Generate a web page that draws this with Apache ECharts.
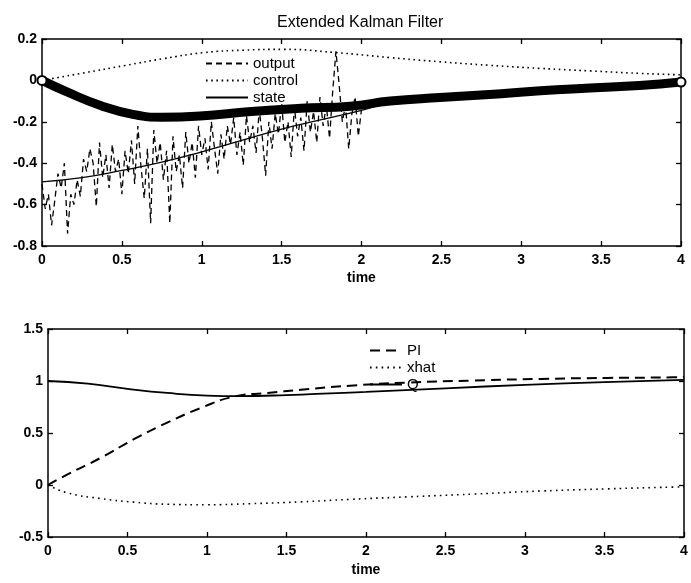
<!DOCTYPE html>
<html><head><meta charset="utf-8">
<script src="https://cdn.jsdelivr.net/npm/echarts@6/dist/echarts.min.js"></script>
<style>html,body{margin:0;padding:0;background:#fff}#c{width:691px;height:583px}</style>
</head><body><div id="c"></div>
<script>
// ---------- data ----------
const chartTitle = 'Extended Kalman Filter';
const xAxisName = 'time';
const topLegend = ['output', 'control', 'state'];
const bottomLegend = ['PI', 'xhat', 'Q'];

// top panel: noisy measurement (output), sampled every 0.02 from t = 0 to 2
const outputStep = 0.02;
const outputValues = [
-0.50,-0.62,-0.55,-0.70,-0.58,-0.45,-0.52,-0.40,-0.74,-0.55,
-0.60,-0.48,-0.56,-0.38,-0.44,-0.33,-0.40,-0.61,-0.30,-0.47,
-0.36,-0.52,-0.31,-0.44,-0.38,-0.55,-0.34,-0.45,-0.29,-0.50,
-0.22,-0.42,-0.57,-0.33,-0.69,-0.24,-0.40,-0.30,-0.48,-0.34,
-0.69,-0.27,-0.44,-0.36,-0.52,-0.25,-0.40,-0.30,-0.47,-0.22,
-0.36,-0.28,-0.43,-0.20,-0.33,-0.45,-0.26,-0.38,-0.22,-0.31,
-0.18,-0.36,-0.25,-0.41,-0.17,-0.30,-0.22,-0.35,-0.14,-0.28,
-0.46,-0.20,-0.33,-0.16,-0.26,-0.11,-0.30,-0.20,-0.37,-0.13,
-0.27,-0.18,-0.34,-0.10,-0.25,-0.15,-0.30,-0.08,-0.22,-0.12,
-0.28,-0.05,0.14,-0.02,-0.20,-0.12,-0.33,-0.16,-0.08,-0.27,
-0.14];

// top panel: control (dotted)
const controlT = [0, 0.26, 0.52, 0.76, 1.01, 1.26, 1.51, 1.83, 2.18, 2.49, 2.8, 3.12, 3.43, 3.74, 4.0];
const controlV = [0, 0.036, 0.072, 0.105, 0.134, 0.146, 0.15, 0.135, 0.11, 0.09, 0.073, 0.058, 0.046, 0.034, 0.027];

// top panel: state (thin solid)
const stateT = [0, 0.25, 0.5, 0.75, 1.0, 1.25, 1.5, 1.75, 2.0, 2.2, 2.5, 3.0, 3.5, 4.0];
const stateV = [-0.49, -0.47, -0.435, -0.395, -0.345, -0.29, -0.235, -0.19, -0.145, -0.105, -0.083, -0.055, -0.035, -0.012];

// top panel: estimate (heavy 'o' trace)
const estimateT = [0, 0.16, 0.37, 0.575, 0.75, 0.99, 1.31, 1.62, 1.93, 2.18, 2.49, 2.8, 3.12, 3.43, 3.74, 4.0];
const estimateV = [0, -0.057, -0.122, -0.165, -0.178, -0.172, -0.15, -0.135, -0.125, -0.1, -0.083, -0.068, -0.05, -0.037, -0.025, -0.008];

// bottom panel
const piT = [0, 0.12, 0.33, 0.54, 0.75, 0.96, 1.17, 1.38, 1.59, 1.9, 2.26, 2.68, 3.1, 3.52, 3.93, 4.0];
const piV = [0, 0.1, 0.26, 0.44, 0.6, 0.74, 0.85, 0.885, 0.915, 0.955, 0.985, 1.005, 1.02, 1.03, 1.035, 1.04];
const xhatT = [0, 0.12, 0.33, 0.54, 0.75, 1.0, 1.27, 1.59, 1.9, 2.26, 2.68, 3.1, 3.52, 3.93, 4.0];
const xhatV = [0, -0.075, -0.13, -0.165, -0.185, -0.19, -0.18, -0.162, -0.138, -0.114, -0.087, -0.058, -0.037, -0.02, -0.018];
const qT = [0, 0.25, 0.5, 0.75, 1.0, 1.2, 1.5, 2.0, 2.5, 3.0, 3.5, 4.0];
const qV = [1.0, 0.975, 0.925, 0.885, 0.86, 0.855, 0.865, 0.895, 0.93, 0.963, 0.99, 1.01];

// axis ranges / ticks
const xMin = 0, xMax = 4, xStep = 0.5;
const topYMin = -0.8, topYMax = 0.2, topYStep = 0.2;
const botYMin = -0.5, botYMax = 1.5, botYStep = 0.5;

// ---------- build ----------
const zip = (t, v) => t.map((x, i) => [x, v[i]]);
const outputData = outputValues.map((v, i) => [i * outputStep, v]);
const estimateData = zip(estimateT, estimateV).map((p, i, a) =>
  (i === 0 || i === a.length - 1)
    ? { value: p, symbol: 'emptyCircle', symbolSize: 9, itemStyle: { color: '#000', borderColor: '#000', borderWidth: 2.5 } }
    : { value: p });

const FONT = 'Liberation Sans, Arial, Helvetica, sans-serif';
const fmt = v => String(Math.round(v * 100) / 100);
const black = '#000';
const clear = 'rgba(0,0,0,0)';

function xAx(grid, pos, withLabels, nameGap) {
  return {
    type: 'value', gridIndex: grid, position: pos, min: xMin, max: xMax, interval: xStep,
    axisLine: { show: true, onZero: false, lineStyle: { color: black, width: 1.5 } },
    axisTick: { show: true, inside: true, length: 5, lineStyle: { color: black, width: 1.3 } },
    axisLabel: { show: withLabels, formatter: fmt, color: black, fontFamily: FONT, fontSize: 14, fontWeight: 'bold', margin: 7 },
    splitLine: { show: false },
    name: withLabels ? xAxisName : '', nameLocation: 'middle', nameGap: nameGap,
    nameTextStyle: { color: black, fontFamily: FONT, fontSize: 14, fontWeight: 'bold' }
  };
}
function yAx(grid, pos, min, max, step, withLabels) {
  return {
    type: 'value', gridIndex: grid, position: pos, min: min, max: max, interval: step,
    axisLine: { show: true, onZero: false, lineStyle: { color: black, width: 1.5 } },
    axisTick: { show: true, inside: true, length: 5, lineStyle: { color: black, width: 1.3 } },
    axisLabel: { show: withLabels, formatter: fmt, color: black, fontFamily: FONT, fontSize: 14, fontWeight: 'bold', margin: 5 },
    splitLine: { show: false }
  };
}
function legendOf(names, left, top, w) {
  return {
    data: names, orient: 'vertical', left: left, top: top, itemWidth: w, itemHeight: 10, itemGap: 2,
    textStyle: { color: black, fontFamily: FONT, fontSize: 15, lineHeight: 14 },
    itemStyle: { color: clear, borderColor: clear, borderWidth: 0, opacity: 0 },
    selectedMode: false
  };
}

const chart = echarts.init(document.getElementById('c'), null, { renderer: 'canvas' });
chart.setOption({
  backgroundColor: '#fff',
  animation: false,
  title: {
    text: chartTitle, left: 272, top: 10,
    textStyle: { color: black, fontFamily: FONT, fontSize: 16, fontWeight: 'normal' }
  },
  grid: [
    { left: 42, right: 10, top: 39, height: 207 },
    { left: 48, right: 7, top: 329, height: 208 }
  ],
  legend: [
    legendOf(topLegend, 200, 51, 42),
    legendOf(bottomLegend, 364, 338, 32)
  ],
  xAxis: [
    xAx(0, 'bottom', true, 25), xAx(0, 'top', false, 0),
    xAx(1, 'bottom', true, 26), xAx(1, 'top', false, 0)
  ],
  yAxis: [
    yAx(0, 'left', topYMin, topYMax, topYStep, true), yAx(0, 'right', topYMin, topYMax, topYStep, false),
    yAx(1, 'left', botYMin, botYMax, botYStep, true), yAx(1, 'right', botYMin, botYMax, botYStep, false)
  ],
  series: [
    { name: 'output', type: 'line', xAxisIndex: 0, yAxisIndex: 0, data: outputData, symbol: 'none',
      lineStyle: { color: black, width: 1.3, type: [6, 4] }, itemStyle: { color: black } },
    { name: 'control', type: 'line', xAxisIndex: 0, yAxisIndex: 0, data: zip(controlT, controlV), symbol: 'none', smooth: true,
      lineStyle: { color: black, width: 1.6, type: [1.6, 3.6] }, itemStyle: { color: black } },
    { name: 'state', type: 'line', xAxisIndex: 0, yAxisIndex: 0, data: zip(stateT, stateV), symbol: 'none', smooth: true,
      lineStyle: { color: black, width: 1.3 }, itemStyle: { color: black } },
    { name: 'estimate', type: 'line', xAxisIndex: 0, yAxisIndex: 0, data: estimateData, symbol: 'none', showSymbol: true, smooth: true,
      lineStyle: { color: black, width: 9, cap: 'round', join: 'round' }, itemStyle: { color: black } },
    { name: 'PI', type: 'line', xAxisIndex: 2, yAxisIndex: 2, data: zip(piT, piV), symbol: 'none', smooth: true,
      lineStyle: { color: black, width: 2, type: [10, 6] }, itemStyle: { color: black } },
    { name: 'xhat', type: 'line', xAxisIndex: 2, yAxisIndex: 2, data: zip(xhatT, xhatV), symbol: 'none', smooth: true,
      lineStyle: { color: black, width: 1.6, type: [1.6, 4.2] }, itemStyle: { color: black } },
    { name: 'Q', type: 'line', xAxisIndex: 2, yAxisIndex: 2, data: zip(qT, qV), symbol: 'none', smooth: true,
      lineStyle: { color: black, width: 1.8 }, itemStyle: { color: black } }
  ]
});
</script>
</body></html>
